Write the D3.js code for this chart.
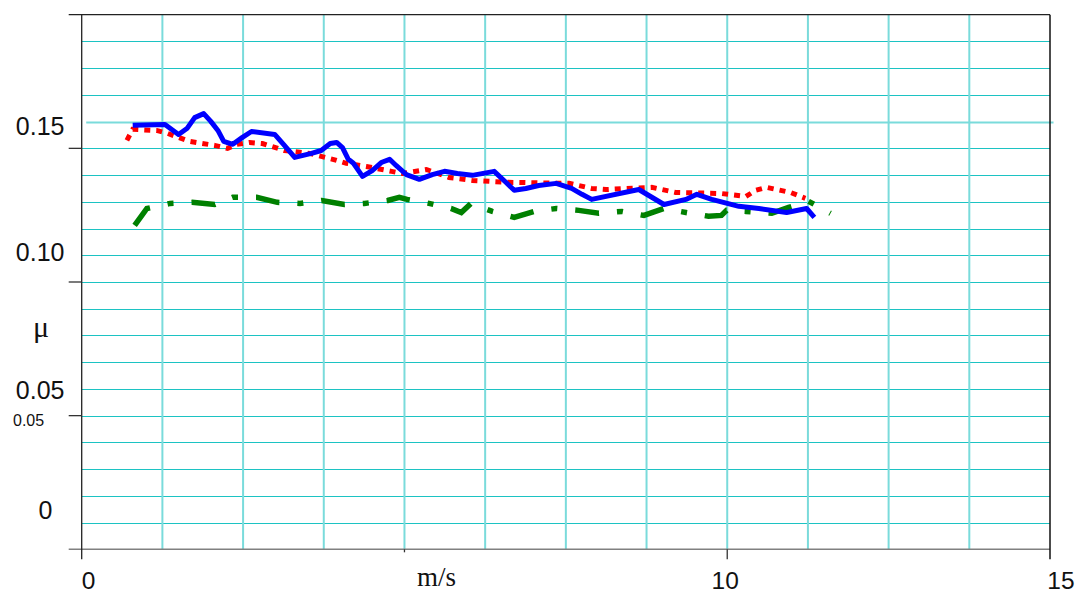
<!DOCTYPE html>
<html>
<head>
<meta charset="utf-8">
<script src="https://cdn.jsdelivr.net/npm/d3@7"></script>
<style>
  html, body { margin: 0; padding: 0; background: #fff; }
  svg text { font-family: "Liberation Sans", Arial, sans-serif; fill: #111; }
  svg text.serif { font-family: "Liberation Serif", "Times New Roman", serif; }
</style>
</head>
<body>
<div id="chart"></div>
<script>
// Datos (velocidad m/s, coeficiente μ)
const speedBlue = [0.79, 1.29, 1.50, 1.63, 1.75, 1.89, 2.00, 2.11, 2.20, 2.34, 2.49, 2.63, 2.99, 3.14, 3.30, 3.56, 3.71, 3.85, 3.95, 4.04, 4.13, 4.21, 4.35, 4.50, 4.64, 4.77, 4.87, 5.03, 5.23, 5.43, 5.62, 5.82, 6.05, 6.39, 6.57, 6.70, 6.88, 7.08, 7.35, 7.59, 7.75, 7.90, 8.63, 9.02, 9.36, 9.53, 9.76, 10.18, 10.49, 10.92, 11.23, 11.35];
const muBlue = [0.1586, 0.1589, 0.1552, 0.1574, 0.1615, 0.1630, 0.1601, 0.1567, 0.1526, 0.1515, 0.1541, 0.1563, 0.1552, 0.1511, 0.1466, 0.1481, 0.1492, 0.1518, 0.1522, 0.1503, 0.1459, 0.1444, 0.1395, 0.1417, 0.1447, 0.1459, 0.1436, 0.1402, 0.1384, 0.1402, 0.1414, 0.1406, 0.1399, 0.1414, 0.1373, 0.1343, 0.1350, 0.1361, 0.1369, 0.1350, 0.1328, 0.1309, 0.1346, 0.1290, 0.1309, 0.1328, 0.1309, 0.1283, 0.1275, 0.1260, 0.1275, 0.1242];

const speedRed = [0.70, 0.79, 1.16, 1.33, 1.67, 2.06, 2.26, 2.40, 2.60, 2.80, 3.14, 3.53, 3.89, 4.10, 4.41, 4.80, 4.97, 5.34, 5.69, 6.05, 6.59, 7.55, 7.90, 8.12, 8.83, 9.20, 9.91, 10.29, 10.44, 10.61, 10.98, 11.21];
const muRed = [0.1530, 0.1571, 0.1567, 0.1556, 0.1526, 0.1511, 0.1500, 0.1515, 0.1522, 0.1518, 0.1492, 0.1481, 0.1459, 0.1444, 0.1432, 0.1414, 0.1406, 0.1421, 0.1391, 0.1380, 0.1373, 0.1369, 0.1350, 0.1346, 0.1354, 0.1335, 0.1331, 0.1320, 0.1343, 0.1354, 0.1335, 0.1313];

const speedGreen = [0.82, 1.01, 1.37, 1.71, 2.06, 2.34, 2.71, 3.03, 3.38, 3.72, 4.07, 4.38, 4.74, 4.92, 5.04, 5.38, 5.72, 5.88, 6.03, 6.36, 6.70, 7.01, 7.35, 7.70, 8.01, 8.37, 8.71, 9.02, 9.36, 9.71, 9.91, 9.99, 10.29, 10.69, 10.95, 11.26, 11.60];
const muGreen = [0.1212, 0.1275, 0.1294, 0.1298, 0.1290, 0.1317, 0.1317, 0.1298, 0.1294, 0.1305, 0.1290, 0.1294, 0.1305, 0.1317, 0.1309, 0.1294, 0.1275, 0.1260, 0.1294, 0.1264, 0.1242, 0.1264, 0.1275, 0.1268, 0.1257, 0.1264, 0.1249, 0.1275, 0.1260, 0.1246, 0.1249, 0.1268, 0.1264, 0.1257, 0.1279, 0.1302, 0.1257];

// Etiquetas de los ejes
const yTickValues = [0, 0.05, 0.10, 0.15, 0.20];
const yTickLabels = ['0', '0.05', '0.10', '0.15'];
const yTickLabelValues = [0, 0.05, 0.10, 0.15];
const xTickLabels = ['0', '10', '15'];
const xTickLabelValues = [0, 10, 15];

const COLOR_BLUE = '#0000ff',
    COLOR_RED = '#ff0000',
    COLOR_GREEN = '#008000',
    COLOR_GRID_H = '#1cc3c3',
    COLOR_GRID_V = '#7adbdb';

///Tamaño del lienzo
let width = 1079, height = 594;

let svg = d3.select('#chart')
    .append('svg')
        .attr('width', width)
        .attr('height', height);

let x = d3.scaleLinear()
    .domain([0, 15])
    .range([81.7, 1050]);

let y = d3.scaleLinear()
    .domain([0, 0.2])
    .range([549.3, 14.7]);

//Rejilla horizontal
let hGrid = d3.range(1, 20).map(function(i) { return i * 0.01; });
let isSpecial = function(d) { return Math.abs(d - 0.16) < 1e-6; };

svg.append('g')
    .selectAll('line')
    .data(hGrid)
    .enter()
    .append('line')
    .attr('x1', function(d) { return isSpecial(d) ? x(0) + 4.5 : x(0); })
    .attr('x2', function(d) { return isSpecial(d) ? x(15) + 3.5 : x(15); })
    .attr('y1', function(d) { return Math.round(y(d)) + 0.5; })
    .attr('y2', function(d) { return Math.round(y(d)) + 0.5; })
    .attr('stroke', function(d) { return isSpecial(d) ? COLOR_GRID_V : COLOR_GRID_H; })
    .attr('stroke-width', function(d) { return isSpecial(d) ? 2 : 1; });

//Rejilla vertical
let vGrid = d3.range(1, 12).map(function(i) { return i * 1.25; });

svg.append('g')
    .selectAll('line')
    .data(vGrid)
    .enter()
    .append('line')
    .attr('x1', function(d) { return x(d); })
    .attr('x2', function(d) { return x(d); })
    .attr('y1', y(0.2))
    .attr('y2', y(0))
    .attr('stroke', COLOR_GRID_V)
    .attr('stroke-width', 2);

//Ejes y bordes
let frame = svg.append('g');

frame.append('line')
    .attr('x1', x(0) - 13).attr('x2', x(15))
    .attr('y1', y(0.2)).attr('y2', y(0.2))
    .attr('stroke', '#222').attr('stroke-width', 1.3);

frame.append('line')
    .attr('x1', x(0) - 13).attr('x2', x(15))
    .attr('y1', y(0)).attr('y2', y(0))
    .attr('stroke', '#808080').attr('stroke-width', 1.5);

frame.append('line')
    .attr('x1', x(0)).attr('x2', x(0))
    .attr('y1', y(0.2)).attr('y2', y(0) + 10)
    .attr('stroke', '#222').attr('stroke-width', 1.3);

frame.append('line')
    .attr('x1', x(15)).attr('x2', x(15))
    .attr('y1', y(0.2)).attr('y2', y(0) + 10)
    .attr('stroke', '#111').attr('stroke-width', 1.5);

//Marcas del eje Y
frame.selectAll('.ytick')
    .data(yTickValues.slice(1, 4))
    .enter()
    .append('line')
    .attr('class', 'ytick')
    .attr('x1', x(0) - 13).attr('x2', x(0))
    .attr('y1', function(d) { return y(d); })
    .attr('y2', function(d) { return y(d); })
    .attr('stroke', '#333').attr('stroke-width', 1.3);

//Marcas del eje X
frame.append('line')
    .attr('x1', x(5)).attr('x2', x(5))
    .attr('y1', y(0)).attr('y2', y(0) + 3)
    .attr('stroke', '#333').attr('stroke-width', 1.3);

frame.append('line')
    .attr('x1', x(10)).attr('x2', x(10))
    .attr('y1', y(0)).attr('y2', y(0) + 10)
    .attr('stroke', '#333').attr('stroke-width', 1.3);

//Textos del eje Y (desplazados como en el original)
let yLabelNudge = [-30, -16.5, -21, -13];
let yLabelEnd = [52.5, 64.5, 64.5, 64.5];

svg.append('g')
    .selectAll('text')
    .data(yTickLabels)
    .enter()
    .append('text')
    .attr('x', function(d, i) { return yLabelEnd[i]; })
    .attr('y', function(d, i) { return y(yTickLabelValues[i]) + yLabelNudge[i]; })
    .attr('text-anchor', 'end')
    .style('font-size', '25px')
    .text(function(d) { return d; });

svg.append('text')
    .attr('x', 13)
    .attr('y', y(0.05) + 10.5)
    .style('font-size', '16px')
    .text('0.05');

svg.append('text')
    .attr('class', 'serif')
    .attr('x', 33)
    .attr('y', 337)
    .style('font-size', '30px')
    .text('μ');

//Textos del eje X
let xLabelAnchor = ['start', 'middle', 'middle'];
let xLabelNudge = [0, -2, 11];

svg.append('g')
    .selectAll('text')
    .data(xTickLabels)
    .enter()
    .append('text')
    .attr('x', function(d, i) { return x(xTickLabelValues[i]) + xLabelNudge[i]; })
    .attr('y', 589)
    .attr('text-anchor', function(d, i) { return xLabelAnchor[i]; })
    .style('font-size', '24.5px')
    .text(function(d) { return d; });

svg.append('text')
    .attr('class', 'serif')
    .attr('x', 417)
    .attr('y', 586)
    .style('font-size', '27px')
    .text('m/s');

//Series
let line = d3.line()
    .x(function(d) { return x(d[0]); })
    .y(function(d) { return y(d[1]); });

function pairs(xs, ys) {
    return xs.map(function(v, i) { return [v, ys[i]]; });
}

svg.append('path')
    .datum(pairs(speedGreen, muGreen))
    .attr('d', line)
    .attr('fill', 'none')
    .attr('stroke', COLOR_GREEN)
    .attr('stroke-width', 5.5)
    .attr('stroke-dasharray', '24,18,6,18');

svg.append('path')
    .datum(pairs(speedRed, muRed))
    .attr('d', line)
    .attr('fill', 'none')
    .attr('stroke', COLOR_RED)
    .attr('stroke-width', 5)
    .attr('stroke-dasharray', '6,6');

svg.append('path')
    .datum(pairs(speedBlue, muBlue))
    .attr('d', line)
    .attr('fill', 'none')
    .attr('stroke', COLOR_BLUE)
    .attr('stroke-width', 5)
    .attr('stroke-linejoin', 'round');
</script>
</body>
</html>
